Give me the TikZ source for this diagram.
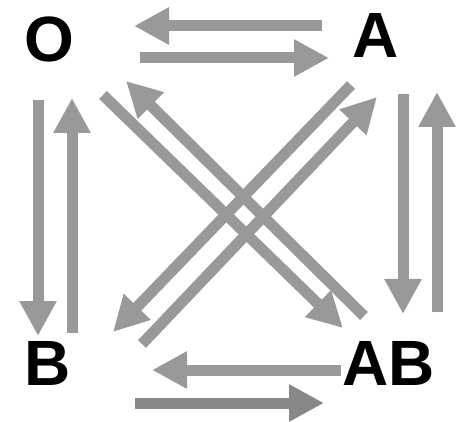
\documentclass[tikz,border=0pt]{standalone}
\usepackage{fontspec}
\setmainfont{Liberation Sans}
\usetikzlibrary{arrows.meta}
\definecolor{arrowgray}{RGB}{153,153,153}
\definecolor{arrowdark}{RGB}{136,136,136}
\tikzset{
	state/.style={inner sep=0pt,font=\fontsize{64}{64}\selectfont\bfseries},
	flow/.style={draw=arrowgray,line width=11pt,-{Triangle[width=35pt,length=35pt]}}
}
\begin{document}
\begin{tikzpicture}[x=1pt,y=-1pt]
		\useasboundingbox (0,0) rectangle (458,422);
		\node[state] (O) at (49,39) {O};
		\node[state] (A) at (376,35) {A};
		\node[state] (B) at (48,363) {B};
		\node[state] (AB) at (389,363) {AB};
		% top and bottom
		\draw[flow] ([shift={(-54,-9)}]A.center) -- ([shift={(85,-13)}]O.center);
		\draw[flow] ([shift={(91,19)}]O.center) -- ([shift={(-47,23)}]A.center);
		\draw[flow] ([shift={(-48,7)}]AB.center) -- ([shift={(104,7)}]B.center);
		\draw[flow,draw=arrowdark] ([shift={(87,40)}]B.center) -- ([shift={(-65,40)}]AB.center);
		% left and right
		\draw[flow] ([shift={(-11,61)}]O.center) -- ([shift={(-10,-27)}]B.center);
		\draw[flow] ([shift={(24,-30)}]B.center) -- ([shift={(23,59)}]O.center);
		\draw[flow] ([shift={(27,59)}]A.center) -- ([shift={(14,-49)}]AB.center);
		\draw[flow] ([shift={(48,-51)}]AB.center) -- ([shift={(61,57)}]A.center);
		% diagonals
		\draw[flow] ([shift={(54,56)}]O.center) -- ([shift={(-46,-35)}]AB.center);
		\draw[flow] ([shift={(-25,-47)}]AB.center) -- ([shift={(77,42)}]O.center);
		\draw[flow] ([shift={(-25,50)}]A.center) -- ([shift={(65,-31)}]B.center);
		\draw[flow] ([shift={(94,-19)}]B.center) -- ([shift={(1,62)}]A.center);
	\end{tikzpicture}
\end{document}
